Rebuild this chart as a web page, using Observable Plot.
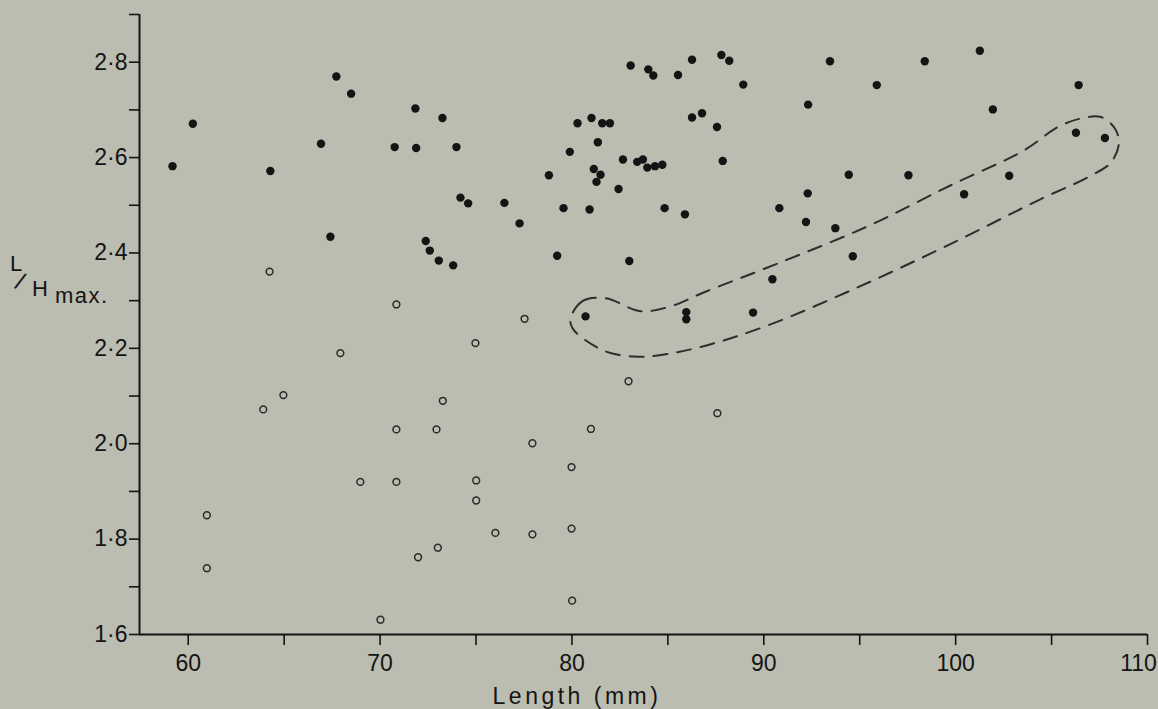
<!DOCTYPE html>
<html>
<head>
<meta charset="utf-8">
<script src="https://cdn.jsdelivr.net/npm/d3@7"></script>
<script src="https://cdn.jsdelivr.net/npm/@observablehq/plot@0.6"></script>
<style>
  html, body { margin: 0; padding: 0; background: #babdaf; }
  svg { display: block; }
</style>
</head>
<body>
<div id="chart"></div>
<script>
// Filled dots (series 1)
const filledX = [59.18,60.24,64.28,66.92,67.72,68.49,67.41,70.76,71.84,71.88,73.25,73.98,74.19,74.59,76.48,77.27,72.38,72.59,73.06,73.81,79.23,82.99,78.80,79.56,79.89,80.29,81.02,81.58,81.98,81.35,80.92,81.14,81.49,81.28,82.43,82.66,83.40,83.70,83.93,84.33,84.71,83.06,83.98,84.24,85.53,86.26,87.79,88.20,88.93,86.26,86.78,87.56,87.86,84.83,85.89,90.81,93.45,95.89,98.39,101.26,92.31,106.41,101.94,106.27,107.78,94.43,97.54,102.79,92.29,92.20,93.73,100.44,94.64,90.45,80.71,85.96,85.96,89.44];
const filledY = [2.582,2.671,2.572,2.629,2.770,2.734,2.434,2.622,2.703,2.620,2.683,2.622,2.516,2.504,2.505,2.462,2.425,2.405,2.384,2.374,2.394,2.383,2.563,2.494,2.612,2.672,2.683,2.672,2.672,2.632,2.491,2.576,2.564,2.549,2.534,2.596,2.591,2.596,2.579,2.582,2.585,2.793,2.785,2.772,2.773,2.805,2.815,2.803,2.753,2.684,2.693,2.664,2.593,2.494,2.481,2.494,2.802,2.752,2.802,2.824,2.711,2.752,2.701,2.652,2.641,2.564,2.563,2.562,2.525,2.465,2.452,2.523,2.393,2.345,2.267,2.276,2.261,2.275];

// Open circles (series 2)
const openX = [64.24,67.93,64.96,63.91,70.85,70.85,68.97,70.85,77.53,74.97,73.27,72.94,82.95,87.58,80.99,77.94,79.98,75.01,75.01,76.01,77.94,79.98,71.98,73.01,80.01,70.02,60.97,60.97];
const openY = [2.361,2.190,2.102,2.072,2.292,2.030,1.920,1.920,2.262,2.211,2.090,2.030,2.131,2.064,2.031,2.001,1.951,1.923,1.881,1.813,1.810,1.822,1.762,1.782,1.671,1.631,1.850,1.739];

// Dashed enclosing outline (closed curve)
const outlineX = [79.93,80.55,81.75,83.58,85.14,86.86,90.73,95.42,99.75,103.56,105.33,106.53,107.57,108.30,108.51,108.10,106.90,104.44,99.59,94.79,90.20,86.81,84.47,83.21,81.86,80.71,80.03];
const outlineY = [2.263,2.299,2.305,2.278,2.288,2.317,2.378,2.456,2.542,2.615,2.664,2.682,2.685,2.661,2.630,2.590,2.559,2.513,2.416,2.326,2.248,2.204,2.185,2.183,2.192,2.217,2.242];

// Ticks
const xTicks = [60,65,70,75,80,85,90,95,100,105,110];
const yTicks = [1.6,1.7,1.8,1.9,2.0,2.1,2.2,2.3,2.4,2.5,2.6,2.7,2.8,2.9];
const xDomain = [57.46, 110];
const yDomain = [1.6, 2.9];

const filled = filledX.map((x, i) => ({x, y: filledY[i]}));
const open = openX.map((x, i) => ({x, y: openY[i]}));
const outline = outlineX.map((x, i) => ({x, y: outlineY[i]}));

const ink = "#141414";
const font = "Liberation Sans, Arial, sans-serif";
const svg = Plot.plot({
  width: 1158,
  height: 709,
  marginLeft: 139,
  marginRight: 11,
  marginTop: 14,
  marginBottom: 75,
  style: {background: "#babdaf", fontFamily: font, fontSize: "23px", color: ink},
  x: {domain: xDomain},
  y: {domain: yDomain},
  marks: [
    Plot.axisX(xTicks, {
      tickSize: 11, tickPadding: 9, strokeWidth: 1.6, label: null, fontSize: 23,
      tickFormat: d => d % 10 === 0 ? String(d) : ""
    }),
    Plot.axisY(yTicks, {
      tickSize: 10, tickPadding: 2, strokeWidth: 1.6, label: null, fontSize: 23,
      tickFormat: d => (Math.round(d * 10) % 2 === 0 && d < 2.85) ? d.toFixed(1).replace(".", "·") : ""
    }),
    Plot.ruleX([xDomain[0]], {stroke: ink, strokeWidth: 2}),
    Plot.ruleY([yDomain[0]], {stroke: ink, strokeWidth: 2}),
    Plot.line(outline, {x: "x", y: "y", curve: "catmull-rom-closed", stroke: "#2e2e2e", strokeWidth: 2, strokeDasharray: "14,10"}),
    Plot.dot(open, {x: "x", y: "y", r: 3.4, stroke: "#2a2a2a", strokeWidth: 1.5, fill: "none"}),
    Plot.dot(filled, {x: "x", y: "y", r: 4.2, fill: ink, stroke: "none"})
  ]
});
document.getElementById("chart").appendChild(svg);

const s = d3.select(svg);
// nudge the last x tick label so it stays inside the picture
s.selectAll("text").filter(function() { return this.textContent === "110"; }).attr("dx", -9);
// x axis title
s.append("text").attr("x", 577).attr("y", 704)
  .style("text-anchor", "middle").style("font-family", font).style("font-size", "23px")
  .style("letter-spacing", "3.5px").style("fill", ink).text("Length (mm)");
// y axis title L/Hmax.
const yl = s.append("g").style("font-family", font).style("fill", ink).style("text-anchor", "start");
yl.append("text").attr("x", 10).attr("y", 271).style("font-size", "22px").text("L");
yl.append("text").attr("x", 17).attr("y", 290).attr("transform", "rotate(22 21 281)").style("font-size", "24px").text("/");
yl.append("text").attr("x", 32).attr("y", 296).style("font-size", "22px").text("H");
yl.append("text").attr("x", 55).attr("y", 303).style("font-size", "22px").style("letter-spacing", "1.5px").text("max.");
</script>
</body>
</html>
